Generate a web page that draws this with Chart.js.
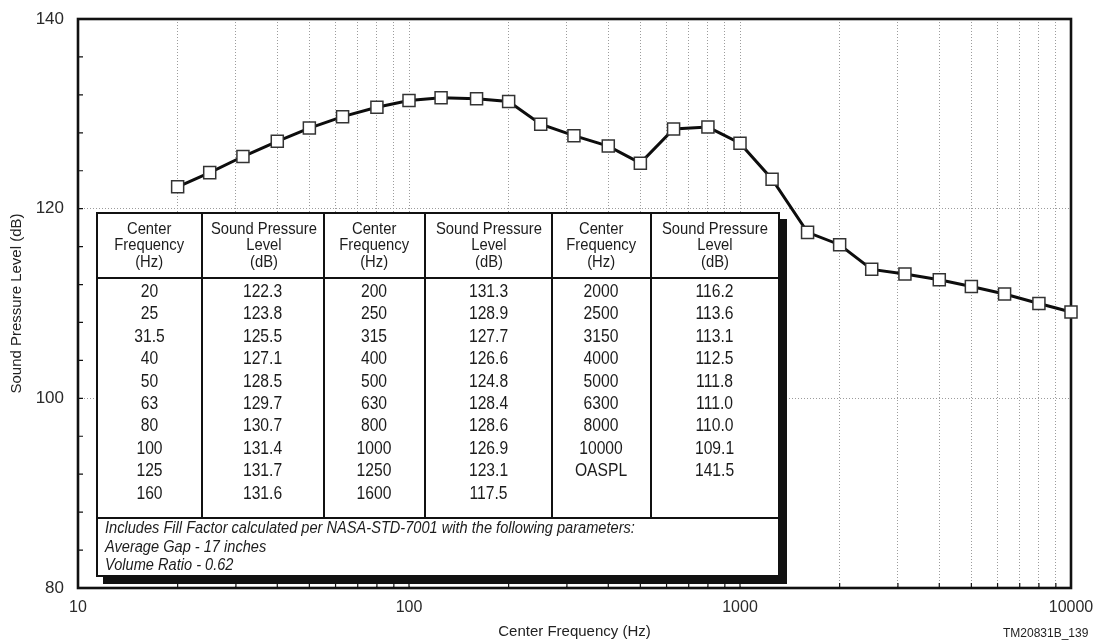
<!DOCTYPE html>
<html>
<head>
<meta charset="utf-8">
<script src="https://cdn.jsdelivr.net/npm/chart.js@4.4.1/dist/chart.umd.min.js"></script>
<style>
  body { margin: 0; background: #fff; font-family: "Liberation Sans", Arial, sans-serif; color: #1c1c1c; }
  #wrap { position: relative; width: 1096px; height: 644px; }
  #spl { position: absolute; left: 96px; top: 212px; width: 682px; border-collapse: collapse; table-layout: fixed;
         background: #fff; box-shadow: 7px 7px 0 #111; border: 2.5px solid #111; }
  #spl td { border: 2px solid #111; padding: 0; text-align: center; vertical-align: middle; overflow: visible; white-space: nowrap; }
  #spl .hdr td { height: 63px; font-size: 17px; line-height: 16.5px; }
  #spl .dat td { height: 237px; vertical-align: top; font-size: 18px; line-height: 22.4px; padding-top: 1px; }
  #spl .note td { height: 52px; text-align: left; font-style: italic; font-size: 16.8px; line-height: 18.5px; padding-left: 7px; }
  .sq { display: inline-block; transform: scaleX(0.87); transform-origin: center; }
  .note .sq { transform-origin: left center; }
  #ref { position: absolute; left: 1003px; top: 626px; font-size: 12px; color: #222; }
</style>
</head>
<body>
<div id="wrap">
  <canvas id="c" width="1096" height="644"></canvas>
  <table id="spl"></table>
  <div id="ref">TM20831B_139</div>
</div>
<script>
// Center frequencies (Hz) and sound pressure levels (dB)
const freqLabels = ['20', '25', '31.5', '40', '50', '63', '80', '100', '125', '160',
  '200', '250', '315', '400', '500', '630', '800', '1000', '1250', '1600',
  '2000', '2500', '3150', '4000', '5000', '6300', '8000', '10000'];
const freqs = [20, 25, 31.5, 40, 50, 63, 80, 100, 125, 160,
  200, 250, 315, 400, 500, 630, 800, 1000, 1250, 1600,
  2000, 2500, 3150, 4000, 5000, 6300, 8000, 10000];
const spl = [122.3, 123.8, 125.5, 127.1, 128.5, 129.7, 130.7, 131.4, 131.7, 131.6,
  131.3, 128.9, 127.7, 126.6, 124.8, 128.4, 128.6, 126.9, 123.1, 117.5,
  116.2, 113.6, 113.1, 112.5, 111.8, 111.0, 110.0, 109.1];
const oaspl = 141.5;

// Axis ticks
const xTicks = [10, 20, 30, 40, 50, 60, 70, 80, 90,
  100, 200, 300, 400, 500, 600, 700, 800, 900,
  1000, 2000, 3000, 4000, 5000, 6000, 7000, 8000, 9000, 10000];
const xLabelTicks = [10, 100, 1000, 10000];
const yMajor = [80, 90, 100, 110, 120, 130, 140];

const noteLines = [
  'Includes Fill Factor calculated per NASA-STD-7001 with the following parameters:',
  'Average Gap - 17 inches',
  'Volume Ratio - 0.62'
];

// Build the data table overlay
function buildTable() {
  const widths = [105, 122, 101, 127, 99, 128];
  const hdrF = 'Center<br>Frequency<br>(Hz)';
  const hdrL = 'Sound Pressure<br>Level<br>(dB)';
  let html = '<colgroup>' + widths.map(w => `<col style="width:${w}px">`).join('') + '</colgroup>';
  html += '<tr class="hdr">' + [hdrF, hdrL, hdrF, hdrL, hdrF, hdrL]
    .map(h => `<td><span class="sq">${h}</span></td>`).join('') + '</tr>';

  const cols = [];
  for (let g = 0; g < 3; g++) {
    const f = freqLabels.slice(g * 10, g * 10 + 10);
    const v = spl.slice(g * 10, g * 10 + 10).map(x => x.toFixed(1));
    if (g === 2) { f.push('OASPL'); v.push(oaspl.toFixed(1)); }
    cols.push(f, v);
  }
  html += '<tr class="dat">' + cols.map(c => `<td><span class="sq">${c.join('<br>')}</span></td>`).join('') + '</tr>';
  html += `<tr class="note"><td colspan="6"><span class="sq">${noteLines.join('<br>')}</span></td></tr>`;
  document.getElementById('spl').innerHTML = html;
}

// Frame and inward tick marks
const framePlugin = {
  id: 'frame',
  beforeDatasetsDraw(chart) {
    const { ctx, chartArea: a, scales: { x, y } } = chart;
    ctx.save();
    ctx.strokeStyle = '#111';
    ctx.lineWidth = 1.2;
    ctx.beginPath();
    y.ticks.forEach(t => {
      const py = y.getPixelForValue(t.value);
      ctx.moveTo(a.left, py);
      ctx.lineTo(a.left + 5, py);
    });
    xTicks.forEach(v => {
      const px = x.getPixelForValue(v);
      ctx.moveTo(px, a.bottom);
      ctx.lineTo(px, a.bottom - 5);
    });
    ctx.stroke();
    ctx.lineWidth = 2.6;
    ctx.strokeRect(a.left, a.top, a.right - a.left, a.bottom - a.top);
    ctx.restore();
  }
};

const font = { family: '"Liberation Sans", Arial, sans-serif' };

buildTable();

new Chart(document.getElementById('c'), {
  type: 'line',
  data: {
    datasets: [{
      data: freqs.map((f, i) => ({ x: f, y: spl[i] })),
      borderColor: '#0d0d0d',
      borderWidth: 3,
      pointStyle: 'rect',
      pointRadius: 8.5,
      pointBackgroundColor: '#fff',
      pointBorderColor: '#333',
      pointBorderWidth: 1.5,
      tension: 0,
      clip: false
    }]
  },
  options: {
    responsive: false,
    animation: false,
    events: [],
    layout: { padding: { left: 0, top: 19, right: 25, bottom: 0 } },
    plugins: { legend: { display: false }, tooltip: { enabled: false } },
    scales: {
      x: {
        type: 'logarithmic',
        min: 10,
        max: 10000,
        afterBuildTicks: s => { s.ticks = xTicks.map(v => ({ value: v })); },
        afterFit: s => { s.height = 56; s.paddingLeft = 0; s.paddingRight = 0; },
        border: { display: false, dash: [1, 2] },
        grid: {
          drawTicks: false,
          lineWidth: 1,
          color: c => (c.tick.value > 10 && c.tick.value < 10000) ? '#9c9c9c' : 'rgba(0,0,0,0)'
        },
        ticks: {
          autoSkip: false,
          maxRotation: 0,
          padding: 10,
          color: '#2a2a2a',
          font: { ...font, size: 16 },
          callback: v => xLabelTicks.includes(v) ? String(v) : ''
        },
        title: {
          display: true,
          text: 'Center Frequency (Hz)',
          color: '#222',
          font: { ...font, size: 15 },
          padding: { top: 0, bottom: 3 }
        }
      },
      y: {
        min: 80,
        max: 140,
        afterFit: s => { s.width = 78; s.paddingTop = 0; s.paddingBottom = 0; },
        border: { display: false, dash: [1, 2] },
        grid: {
          drawTicks: false,
          lineWidth: 1,
          color: c => (yMajor.includes(c.tick.value) && c.tick.value > 80 && c.tick.value < 140) ? '#9c9c9c' : 'rgba(0,0,0,0)'
        },
        ticks: {
          stepSize: 2,
          padding: 14,
          color: '#2a2a2a',
          font: { ...font, size: 17 },
          callback: v => yMajor.includes(v) ? String(v) : ''
        },
        title: {
          display: true,
          text: 'Sound Pressure Level (dB)',
          color: '#222',
          font: { ...font, size: 15 },
          padding: { top: 8, bottom: 0 }
        }
      }
    }
  },
  plugins: [framePlugin]
});
</script>
</body>
</html>
